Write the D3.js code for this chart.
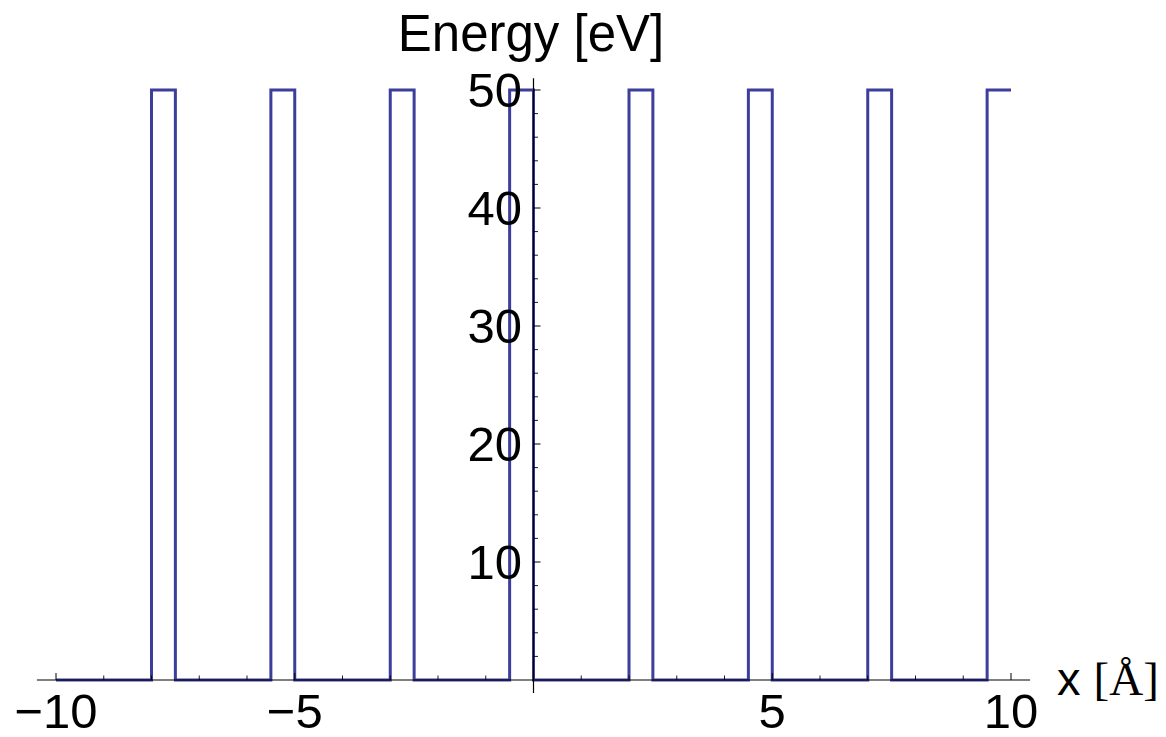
<!DOCTYPE html>
<html><head><meta charset="utf-8">
<script src="https://cdn.jsdelivr.net/npm/d3@7"></script>
<style>body{margin:0;background:#fff}svg{display:block}</style>
</head><body>
<script>
// Data
const barrierLeft  = [-8, -5.5, -3, -0.5, 2, 4.5, 7, 9.5];
const barrierRight = [-7.5, -5, -2.5, 0, 2.5, 5, 7.5, 10];
const barrierHeight = 50;
const xStart = -10, xEnd = 10;
const xMajorTicks = [-10, -5, 5, 10];
const xMinorTicks = [-9,-8,-7,-6,-4,-3,-2,-1,1,2,3,4,6,7,8,9];
const yMajorTicks = [10, 20, 30, 40, 50];
const yMinorTicks = [2,4,6,8,12,14,16,18,22,24,26,28,32,34,36,38,42,44,46,48];

const W = 1166, H = 737;
const svg = d3.select("body").append("svg").attr("width", W).attr("height", H);

const x = d3.scaleLinear().domain([-10, 10]).range([56, 1011]);
const y = d3.scaleLinear().domain([0, 50]).range([680, 90]);

// build step curve points
const pts = [[xStart, 0]];
barrierLeft.forEach((l, i) => {
  const r = barrierRight[i];
  pts.push([l, 0], [l, barrierHeight], [r, barrierHeight]);
  if (r < xEnd) pts.push([r, 0]);
});
if (pts[pts.length-1][0] < xEnd) pts.push([xEnd, pts[pts.length-1][1]]);

svg.append("path")
  .attr("d", d3.line().x(d => x(d[0])).y(d => y(d[1]))(pts))
  .attr("fill", "none").attr("stroke", "#3d3d9c").attr("stroke-width", 3)
  .attr("stroke-linejoin", "miter");

const axisColor = "#000";
// x axis
const gx = svg.append("g");
gx.append("line").attr("x1", x(-10.4)).attr("x2", x(10.4)).attr("y1", y(0)).attr("y2", y(0))
  .attr("stroke", axisColor).attr("stroke-width", 1.2);
gx.selectAll(".xmaj").data(xMajorTicks).enter().append("line")
  .attr("x1", d => x(d)).attr("x2", d => x(d)).attr("y1", y(0)).attr("y2", y(0) - 7)
  .attr("stroke", axisColor).attr("stroke-width", 1);
gx.selectAll(".xmin").data(xMinorTicks).enter().append("line")
  .attr("x1", d => x(d)).attr("x2", d => x(d)).attr("y1", y(0)).attr("y2", y(0) - 4.5)
  .attr("stroke", axisColor).attr("stroke-width", 0.9);
gx.selectAll(".xl").data(xMajorTicks).enter().append("text")
  .attr("x", d => x(d)).attr("y", 728)
  .attr("text-anchor", "middle")
  .attr("font-family", "Liberation Sans, Arial, sans-serif").attr("font-size", 49)
  .text(d => d < 0 ? "\u2212" + Math.abs(d) : d);

// y axis
const gy = svg.append("g");
gy.append("line").attr("x1", x(0)).attr("x2", x(0)).attr("y1", y(-1.1)).attr("y2", y(51))
  .attr("stroke", axisColor).attr("stroke-width", 1.2);
gy.selectAll(".ymaj").data(yMajorTicks).enter().append("line")
  .attr("x1", x(0)).attr("x2", x(0) + 7).attr("y1", d => y(d)).attr("y2", d => y(d))
  .attr("stroke", axisColor).attr("stroke-width", 1);
gy.selectAll(".ymin").data(yMinorTicks).enter().append("line")
  .attr("x1", x(0)).attr("x2", x(0) + 4.5).attr("y1", d => y(d)).attr("y2", d => y(d))
  .attr("stroke", axisColor).attr("stroke-width", 0.9);
gy.selectAll(".yl").data(yMajorTicks).enter().append("text")
  .attr("x", 522).attr("y", d => y(d) + 17)
  .attr("text-anchor", "end")
  .attr("font-family", "Liberation Sans, Arial, sans-serif").attr("font-size", 49)
  .text(d => d);

// axis labels
svg.append("text").attr("x", 531).attr("y", 51).attr("text-anchor", "middle")
  .attr("font-family", "Liberation Sans, Arial, sans-serif").attr("font-size", 51)
  .text("Energy [eV]");
const xl = svg.append("text").attr("x", 1057).attr("y", 695)
  .attr("font-family", "Liberation Sans, Arial, sans-serif").attr("font-size", 47);
xl.append("tspan").text("x ");
xl.append("tspan").attr("font-family", "Liberation Serif, Times New Roman, serif").text("[Å]");
</script>
</body></html>
